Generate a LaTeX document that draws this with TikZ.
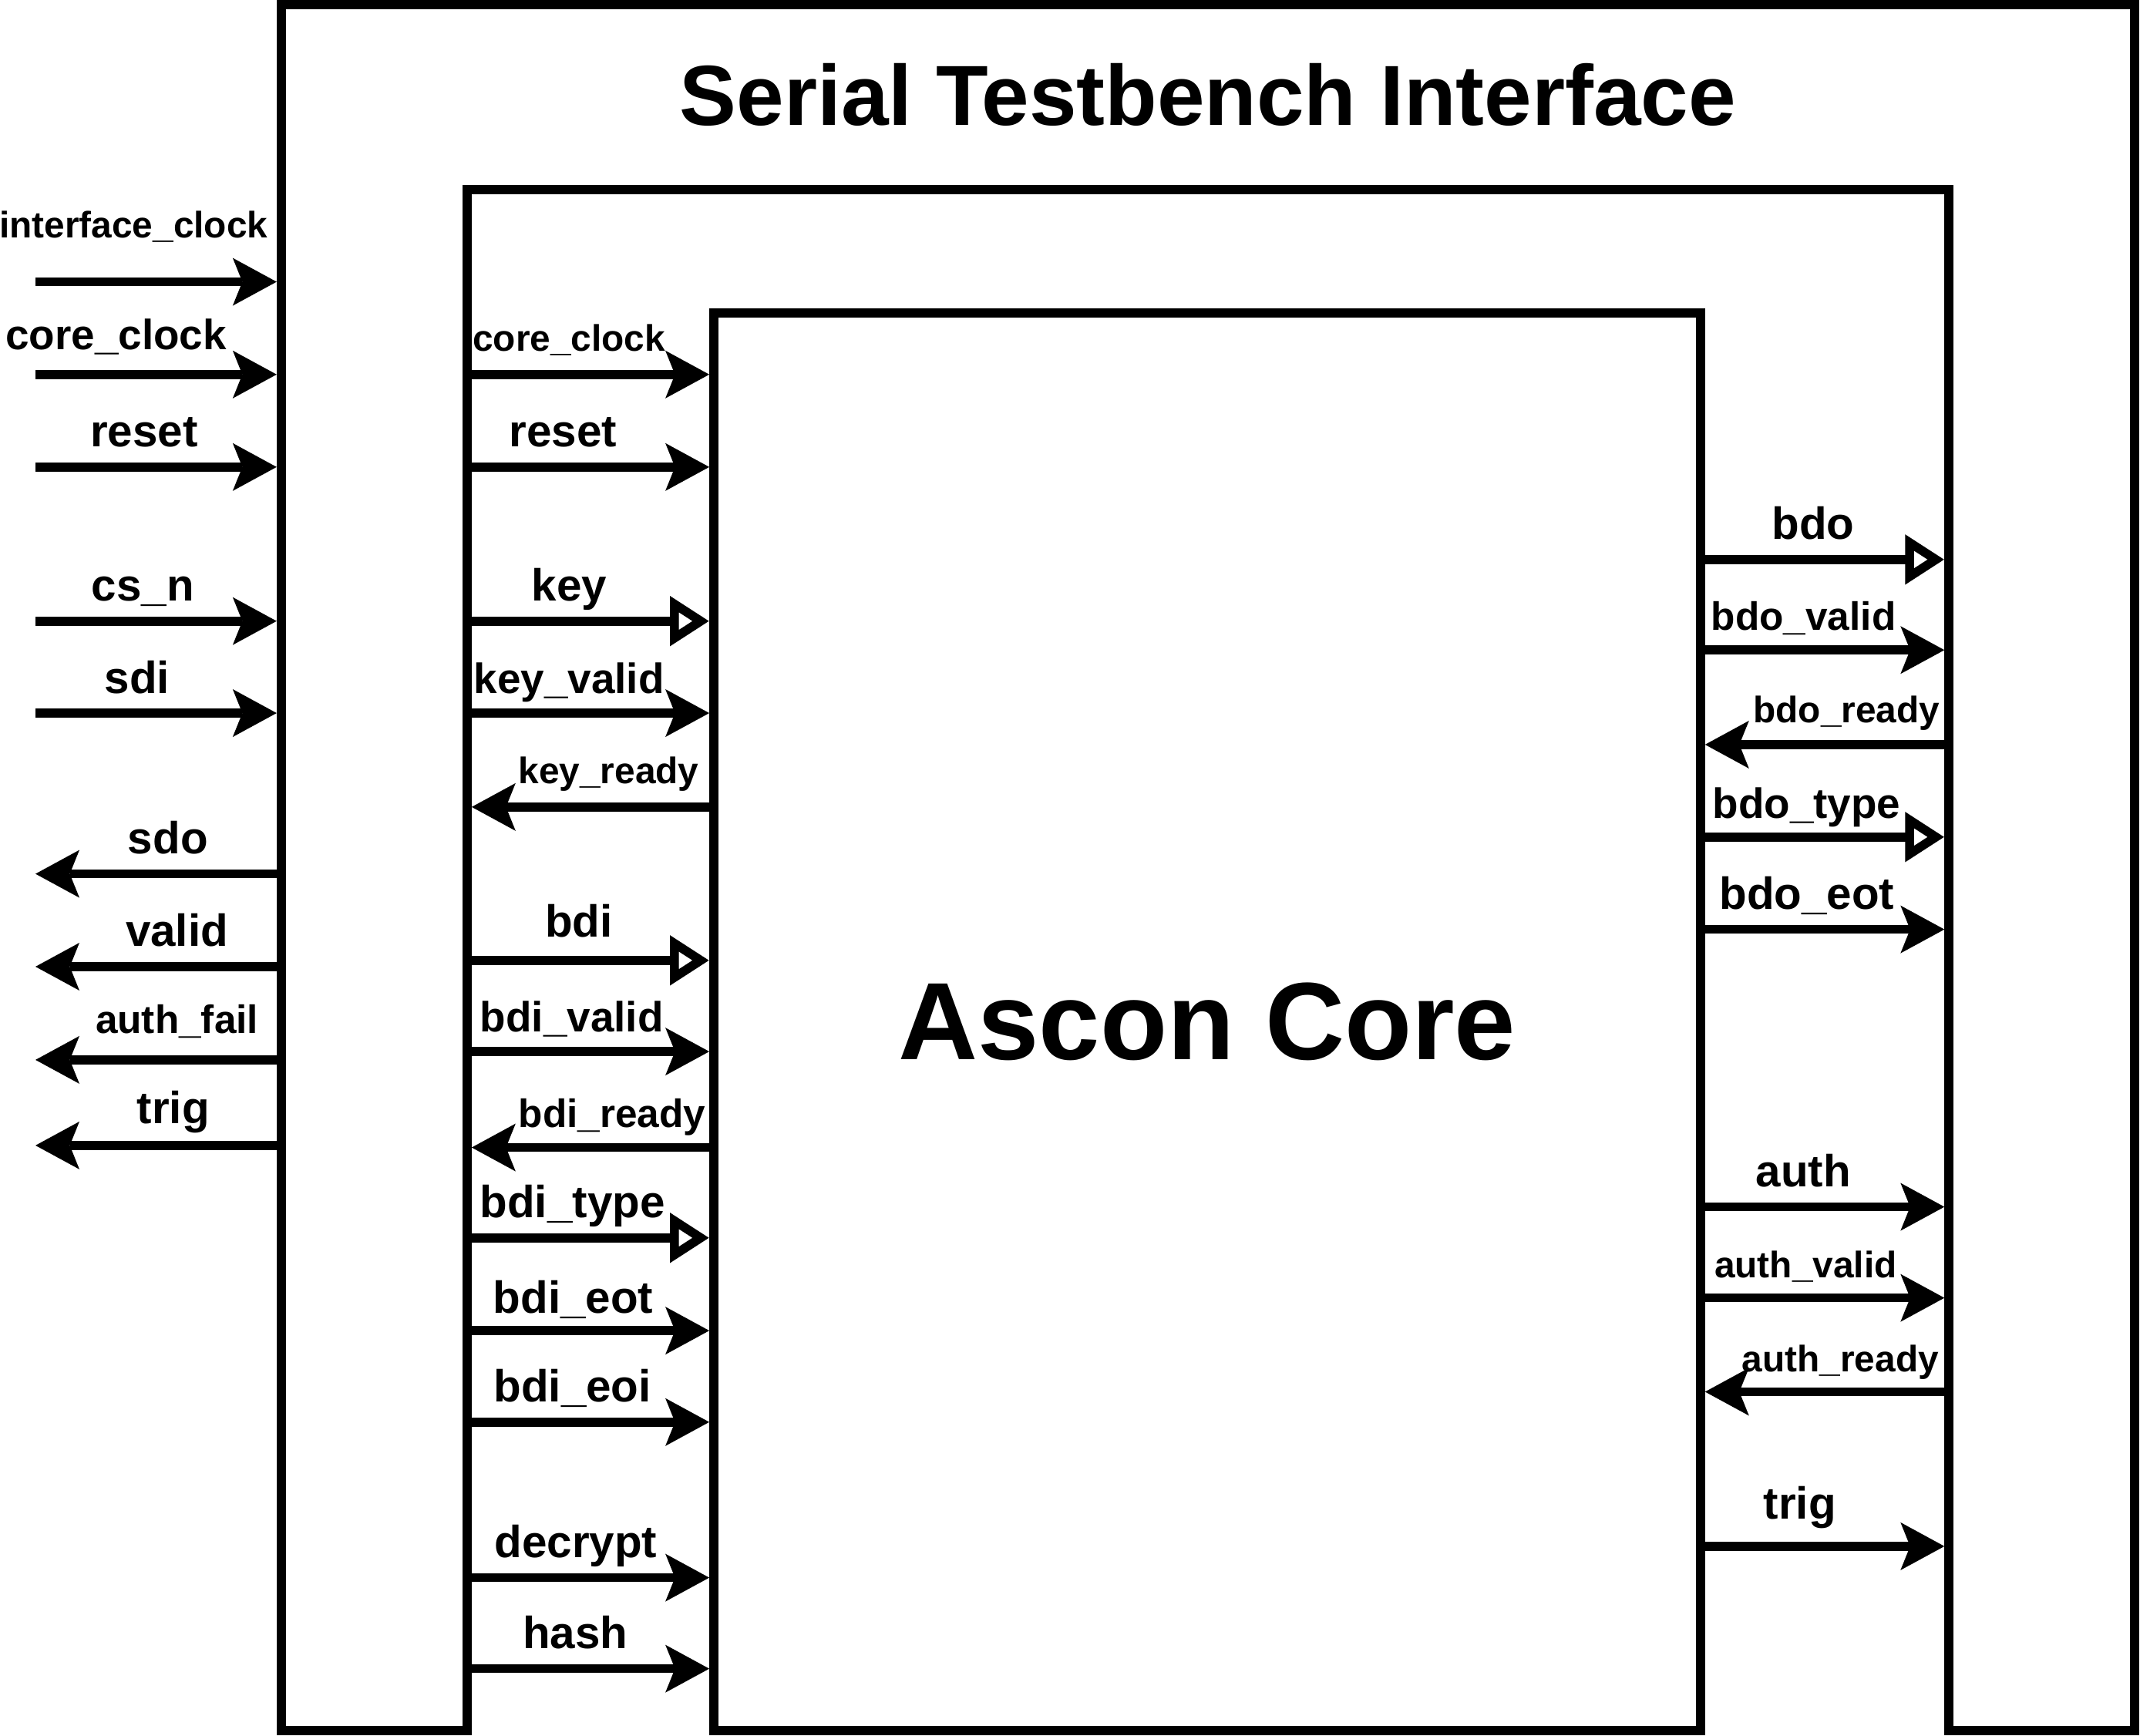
\documentclass[tikz,border=0pt]{standalone}
\usepackage{fontspec}
\setmainfont{Liberation Sans}
\usetikzlibrary{arrows.meta}

\tikzset{
  frame/.style={draw,line width=3.3pt,line join=miter},
  sig/.style={-{Stealth[length=5.7mm,width=6.2mm,inset=1.25mm,line width=0pt]},line width=3.3pt},
  bus/.style={-{Triangle[open,length=5.1mm,width=6.2mm]},line width=3.3pt},
  lbl/.style={anchor=base,inner sep=0pt,yshift=2.6mm,font=\bfseries\fontsize{16.6}{18}\selectfont},
  lblm/.style={lbl,font=\bfseries\fontsize{15.6}{18}\selectfont},
  lbls/.style={lbl,font=\bfseries\fontsize{14.6}{17}\selectfont},
  lblxs/.style={lbl,font=\bfseries\fontsize{13.6}{16}\selectfont},
}

\begin{document}
\begin{tikzpicture}[x=0.17704mm,y=-0.17704mm]
  \useasboundingbox (0,0) rectangle (1568,1272);

  % testbench frame and core
  \draw[frame] (206,1268) -- (206,3.3) -- (1564,3.3) -- (1564,1268) -- (1428,1268)
        -- (1428,138.8) -- (342.3,138.8) -- (342.3,1268) -- cycle;
  \node[frame,minimum width=128mm,minimum height=183.9mm,inner sep=0pt,
        font=\bfseries\fontsize{40.6}{44}\selectfont] (core) at (884.5,748.6) {Ascon Core};
  \node[anchor=base,inner sep=0pt,font=\bfseries\fontsize{31.5}{34}\selectfont]
        (stb) at (885,92) {Serial Testbench Interface};

  % outer pins
  \coordinate (iclk-a) at (26,206.5);   \coordinate (iclk-b) at (202.7,206.5);
  \coordinate (oclk-a) at (26,274.4);   \coordinate (oclk-b) at (202.7,274.4);
  \coordinate (orst-a) at (26,342.2);   \coordinate (orst-b) at (202.7,342.2);
  \coordinate (csn-a) at (26,455.1);    \coordinate (csn-b) at (202.7,455.1);
  \coordinate (sdi-a) at (26,522.5);    \coordinate (sdi-b) at (202.7,522.5);
  \coordinate (sdo-a) at (206,640.3);   \coordinate (sdo-b) at (26,640.3);
  \coordinate (val-a) at (206,708.3);   \coordinate (val-b) at (26,708.3);
  \coordinate (afl-a) at (206,776.6);   \coordinate (afl-b) at (26,776.6);
  \coordinate (otrg-a) at (206,839.3);  \coordinate (otrg-b) at (26,839.3);

  % core inputs
  \coordinate (cclk-a) at (342.3,274.4); \coordinate (cclk-b) at (519.7,274.4);
  \coordinate (crst-a) at (342.3,342.2); \coordinate (crst-b) at (519.7,342.2);
  \coordinate (key-a) at (342.3,455.1);  \coordinate (key-b) at (519.7,455.1);
  \coordinate (kval-a) at (342.3,522.5); \coordinate (kval-b) at (519.7,522.5);
  \coordinate (krdy-a) at (523,591.3);   \coordinate (krdy-b) at (345.6,591.3);
  \coordinate (bdi-a) at (342.3,703.7);  \coordinate (bdi-b) at (519.7,703.7);
  \coordinate (bval-a) at (342.3,770.5); \coordinate (bval-b) at (519.7,770.5);
  \coordinate (brdy-a) at (523,840.8);   \coordinate (brdy-b) at (345.6,840.8);
  \coordinate (btyp-a) at (342.3,907);   \coordinate (btyp-b) at (519.7,907);
  \coordinate (beot-a) at (342.3,975);   \coordinate (beot-b) at (519.7,975);
  \coordinate (beoi-a) at (342.3,1042);  \coordinate (beoi-b) at (519.7,1042);
  \coordinate (decr-a) at (342.3,1156);  \coordinate (decr-b) at (519.7,1156);
  \coordinate (hash-a) at (342.3,1222.7); \coordinate (hash-b) at (519.7,1222.7);

  % core outputs
  \coordinate (bdo-a) at (1246,410);     \coordinate (bdo-b) at (1424.7,410);
  \coordinate (oval-a) at (1246,476.3);  \coordinate (oval-b) at (1424.7,476.3);
  \coordinate (ordy-a) at (1428,545.6);  \coordinate (ordy-b) at (1249.3,545.6);
  \coordinate (otyp-a) at (1246,613.3);  \coordinate (otyp-b) at (1424.7,613.3);
  \coordinate (oeot-a) at (1246,681);    \coordinate (oeot-b) at (1424.7,681);
  \coordinate (auth-a) at (1246,884.3);  \coordinate (auth-b) at (1424.7,884.3);
  \coordinate (aval-a) at (1246,951);    \coordinate (aval-b) at (1424.7,951);
  \coordinate (ardy-a) at (1428,1019.8); \coordinate (ardy-b) at (1249.3,1019.8);
  \coordinate (ctrg-a) at (1246,1133);   \coordinate (ctrg-b) at (1424.7,1133);

  \path (iclk-a) edge[sig] node[lblxs,pos=.407,yshift=3.1mm] (t-iclk) {interface\_clock} (iclk-b)
        (oclk-a) edge[sig] node[lblm,pos=.334,yshift=.6mm] (t-oclk) {core\_clock} (oclk-b)
        (orst-a) edge[sig] node[lbl,pos=.45] (t-orst) {reset} (orst-b)
        (csn-a) edge[sig] node[lbl,pos=.445] (t-csn) {cs\_n} (csn-b)
        (sdi-a) edge[sig] node[lbl,pos=.422] (t-sdi) {sdi} (sdi-b)
        (sdo-a) edge[sig] node[lbl,pos=.461] (t-sdo) {sdo} (sdo-b)
        (val-a) edge[sig] node[lbl,pos=.424] (t-val) {valid} (val-b)
        (afl-a) edge[sig] node[lbls,pos=.424,yshift=.8mm] (t-afl) {auth\_fail} (afl-b)
        (otrg-a) edge[sig] node[lbl,pos=.439,yshift=.2mm] (t-otrg) {trig} (otrg-b);

  \path (cclk-a) edge[sig] node[lblxs,pos=.421,yshift=.4mm] (t-cclk) {core\_clock} (cclk-b)
        (crst-a) edge[sig] node[lbl,pos=.396] (t-crst) {reset} (crst-b)
        (key-a) edge[bus] node[lbl,pos=.421] (t-key) {key} (key-b)
        (kval-a) edge[sig] node[lblm,pos=.421] (t-kval) {key\_valid} (kval-b)
        (krdy-a) edge[sig] node[lblxs,pos=.434,yshift=.4mm] (t-krdy) {key\_ready} (krdy-b)
        (bdi-a) edge[bus] node[lbl,pos=.461,yshift=.4mm] (t-bdi) {bdi} (bdi-b)
        (bval-a) edge[sig] node[lblm,pos=.432] (t-bval) {bdi\_valid} (bval-b)
        (brdy-a) edge[sig] node[lbls,pos=.42] (t-brdy) {bdi\_ready} (brdy-b)
        (btyp-a) edge[bus] node[lbl,pos=.435] (t-btyp) {bdi\_type} (btyp-b)
        (beot-a) edge[sig] node[lbl,pos=.438,yshift=-.3mm] (t-beot) {bdi\_eot} (beot-b)
        (beoi-a) edge[sig] node[lbl,pos=.435] (t-beoi) {bdi\_eoi} (beoi-b)
        (decr-a) edge[sig] node[lbl,pos=.449] (t-decr) {decrypt} (decr-b)
        (hash-a) edge[sig] node[lbl,pos=.446] (t-hash) {hash} (hash-b);

  \path (bdo-a) edge[bus] node[lbl,pos=.462] (t-bdo) {bdo} (bdo-b)
        (oval-a) edge[sig] node[lbls,pos=.4225] (t-oval) {bdo\_valid} (oval-b)
        (ordy-a) edge[sig] node[lblxs,pos=.42,yshift=.2mm] (t-ordy) {bdo\_ready} (ordy-b)
        (otyp-a) edge[bus] node[lblm,pos=.435,yshift=-.2mm] (t-otyp) {bdo\_type} (otyp-b)
        (oeot-a) edge[sig] node[lbl,pos=.436] (t-oeot) {bdo\_eot} (oeot-b)
        (auth-a) edge[sig] node[lbl,pos=.421] (t-auth) {auth} (auth-b)
        (aval-a) edge[sig] node[lblxs,pos=.431] (t-aval) {auth\_valid} (aval-b)
        (ardy-a) edge[sig] node[lblxs,pos=.445] (t-ardy) {auth\_ready} (ardy-b)
        (ctrg-a) edge[sig] node[lbl,pos=.407,yshift=.9mm] (t-ctrg) {trig} (ctrg-b);

\end{tikzpicture}
\end{document}
